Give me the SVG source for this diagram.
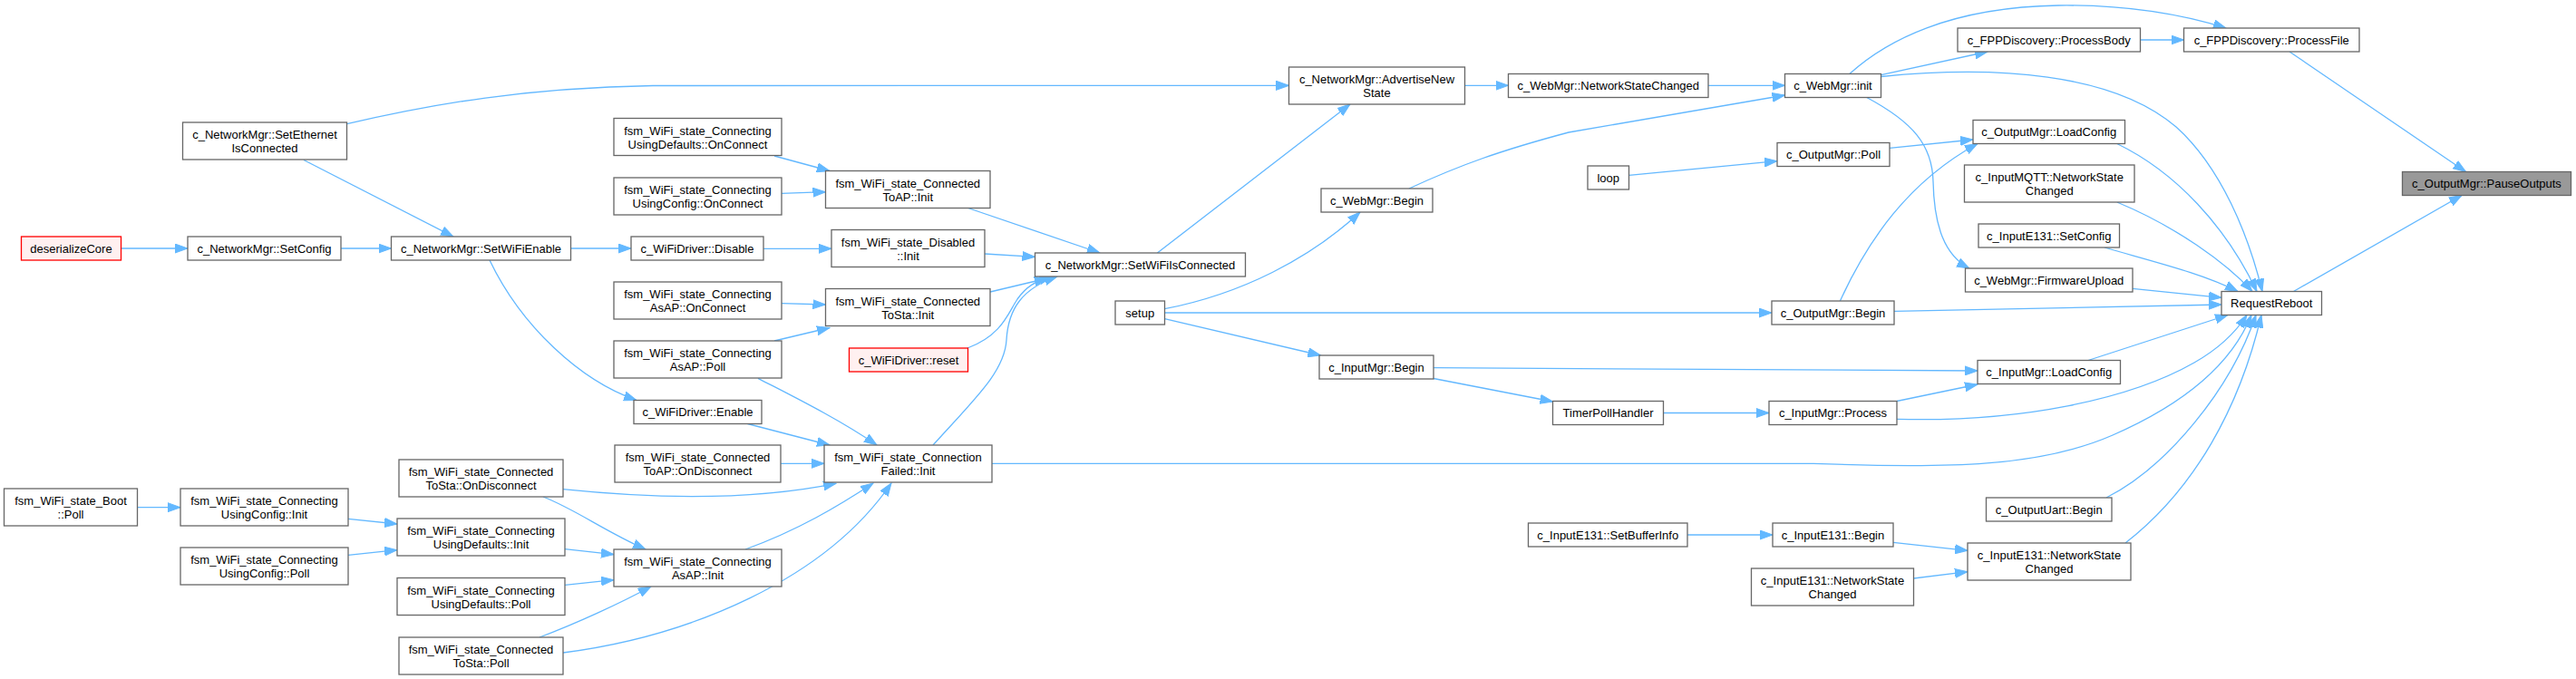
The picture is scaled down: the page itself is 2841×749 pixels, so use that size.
<svg xmlns="http://www.w3.org/2000/svg" width="2841" height="749" viewBox="0 0 2841 749">
<style>
.n rect{fill:#fff;stroke:#666;stroke-width:1.3}
.r rect{fill:#fff0f0;stroke:#f00;stroke-width:1.3}
.g rect{fill:#999;stroke:#666;stroke-width:1.3}
text{font-family:"Liberation Sans",Arial,sans-serif;font-size:13px;text-anchor:middle;fill:#000}
#edges path{fill:none;stroke:#63b8ff;stroke-width:1.3;marker-end:url(#ah)}
</style>
<defs>
<marker id="ah" markerUnits="userSpaceOnUse" markerWidth="15" markerHeight="11" viewBox="0 0 15 11" refX="14" refY="5.5" orient="auto"><path d="M0,0.5 L14,5.5 L0,10.5 z" fill="#63b8ff" stroke="#63b8ff" stroke-width="1"/></marker>
</defs>
<rect width="2841" height="749" fill="#fff"/>
<g id="edges">
<path d="M133.5,274 L207,274"/>
<path d="M376,274 L431.5,274"/>
<path d="M335,176.5 L500,261"/>
<path d="M382.6,136.7 C480,114 580,97 720,94.5 L1421.5,94.3"/>
<path d="M629.5,274 L696,274"/>
<path d="M540,287 C575,360 640,420 702,441.5"/>
<path d="M854,172 L915,188.5"/>
<path d="M862,213.3 L910.5,211.7"/>
<path d="M842,274.3 L917,274.3"/>
<path d="M862,334.7 L910.5,336"/>
<path d="M854,376 L915,361.5"/>
<path d="M836,417.3 C870,435 925,462 967,491"/>
<path d="M824.5,467.5 L915,491"/>
<path d="M861,511.3 L909,511.3"/>
<path d="M621,539.7 C720,550 830,552 922,533.3"/>
<path d="M822,606 C880,585 925,558 963,533"/>
<path d="M621,720 C760,702 910,640 983,533"/>
<path d="M599,548 C635,562 665,585 712,606"/>
<path d="M623,605.7 L677,611.7"/>
<path d="M623,645.3 L677,639.7"/>
<path d="M595,703 C635,688 685,665 718,647"/>
<path d="M151.5,559.7 L199,559.7"/>
<path d="M384,572.3 L438,578"/>
<path d="M384,612.3 L438,606.7"/>
<path d="M1067.7,229.5 L1213,279"/>
<path d="M1086,280 L1141.5,283.3"/>
<path d="M1092,322 L1155,307"/>
<path d="M1067,384 C1105,370 1112,345 1122,330 C1132,316 1142,310 1160,305"/>
<path d="M1029,491 C1075,440 1108,410 1110,375 C1112,340 1128,318 1166,305"/>
<path d="M1276.4,279 L1489,115"/>
<path d="M1284.5,340.7 C1370,324 1445,285 1500,234"/>
<path d="M1284.5,345 L1954,345"/>
<path d="M1284.5,351.7 L1456.5,392"/>
<path d="M1615.5,94.3 L1663.5,94.3"/>
<path d="M1884,94.3 L1968.5,94.3"/>
<path d="M1554,208 C1610,182 1655,166 1730,146 L1968.5,105"/>
<path d="M1796.5,193.3 L1960,177.7"/>
<path d="M2084,163.3 L2176,154"/>
<path d="M2029.4,332 C2060,265 2105,200 2181,158.5"/>
<path d="M2039.8,81.5 C2080,45 2150,8 2270,6 C2350,5 2410,17 2455,31"/>
<path d="M2074.5,82.7 L2192,57"/>
<path d="M2074.5,84.5 C2200,72 2330,80 2400,140 C2450,185 2480,260 2495,321.5"/>
<path d="M2058.8,107.5 C2110,135 2131,160 2132,200 C2133,250 2145,282 2172,296"/>
<path d="M2360.5,44 L2408.5,44"/>
<path d="M2525,57 L2719.5,189.5"/>
<path d="M2529.5,321.5 L2715,215.5"/>
<path d="M2334.8,158.5 C2400,190 2455,250 2489,321.5"/>
<path d="M2334.8,223 C2400,250 2455,290 2484,321.5"/>
<path d="M2321,273 C2380,290 2430,302 2468,321.5"/>
<path d="M2352,318.3 L2450,328.3"/>
<path d="M2089,343.3 L2450,336"/>
<path d="M2303,397.5 L2457,347.5"/>
<path d="M2092,462.3 C2230,466 2350,440 2420,400 C2450,383 2466,366 2478,347.5"/>
<path d="M1094,511.3 L2000,511.3 C2150,517 2250,515 2330,480 C2410,445 2462,400 2483,347.5"/>
<path d="M2323,549 C2390,515 2460,430 2488,347.5"/>
<path d="M2344,599 C2420,540 2470,450 2494,347.5"/>
<path d="M1581,405.7 L2181,409"/>
<path d="M1581,417.5 L1712.5,443"/>
<path d="M1834.5,455.5 L1951,455.5"/>
<path d="M2092,442.5 L2181,424"/>
<path d="M1861,590 L1955,590"/>
<path d="M2088,598.3 L2170,607.3"/>
<path d="M2110.5,638 L2170,630.7"/>
</g>
<g id="n1" class="r"><rect x="23.5" y="261" width="110" height="26"/><text x="78.5" y="278.7">deserializeCore</text></g>
<g id="n2" class="n"><rect x="207" y="261" width="169" height="26"/><text x="291.5" y="278.7">c_NetworkMgr::SetConfig</text></g>
<g id="n3" class="n"><rect x="431.5" y="261" width="198" height="26"/><text x="530.5" y="278.7">c_NetworkMgr::SetWiFiEnable</text></g>
<g id="n4" class="n"><rect x="201.5" y="135" width="181" height="41"/><text x="292" y="153.3">c_NetworkMgr::SetEthernet</text><text x="292" y="168.3">IsConnected</text></g>
<g id="n5" class="n"><rect x="4.5" y="539" width="147" height="41"/><text x="78" y="557.3">fsm_WiFi_state_Boot</text><text x="78" y="572.3">::Poll</text></g>
<g id="n6" class="n"><rect x="199" y="539" width="185" height="41"/><text x="291.5" y="557.3">fsm_WiFi_state_Connecting</text><text x="291.5" y="572.3">UsingConfig::Init</text></g>
<g id="n7" class="n"><rect x="199" y="604" width="185" height="41"/><text x="291.5" y="622.3">fsm_WiFi_state_Connecting</text><text x="291.5" y="637.3">UsingConfig::Poll</text></g>
<g id="n8" class="n"><rect x="440" y="507" width="181" height="41"/><text x="530.5" y="525.3">fsm_WiFi_state_Connected</text><text x="530.5" y="540.3">ToSta::OnDisconnect</text></g>
<g id="n9" class="n"><rect x="438" y="572" width="185" height="41"/><text x="530.5" y="590.3">fsm_WiFi_state_Connecting</text><text x="530.5" y="605.3">UsingDefaults::Init</text></g>
<g id="n10" class="n"><rect x="438" y="637.5" width="185" height="41"/><text x="530.5" y="655.8">fsm_WiFi_state_Connecting</text><text x="530.5" y="670.8">UsingDefaults::Poll</text></g>
<g id="n11" class="n"><rect x="440" y="703" width="181" height="41"/><text x="530.5" y="721.3">fsm_WiFi_state_Connected</text><text x="530.5" y="736.3">ToSta::Poll</text></g>
<g id="n12" class="n"><rect x="677" y="130.5" width="185" height="41"/><text x="769.5" y="148.8">fsm_WiFi_state_Connecting</text><text x="769.5" y="163.8">UsingDefaults::OnConnect</text></g>
<g id="n13" class="n"><rect x="677" y="196" width="185" height="41"/><text x="769.5" y="214.3">fsm_WiFi_state_Connecting</text><text x="769.5" y="229.3">UsingConfig::OnConnect</text></g>
<g id="n14" class="n"><rect x="696" y="261" width="146" height="26"/><text x="769" y="278.7">c_WiFiDriver::Disable</text></g>
<g id="n15" class="n"><rect x="677" y="311" width="185" height="41"/><text x="769.5" y="329.3">fsm_WiFi_state_Connecting</text><text x="769.5" y="344.3">AsAP::OnConnect</text></g>
<g id="n16" class="n"><rect x="677" y="376" width="185" height="41"/><text x="769.5" y="394.3">fsm_WiFi_state_Connecting</text><text x="769.5" y="409.3">AsAP::Poll</text></g>
<g id="n17" class="n"><rect x="699" y="441.5" width="141" height="26"/><text x="769.5" y="459.2">c_WiFiDriver::Enable</text></g>
<g id="n18" class="n"><rect x="678" y="491" width="183" height="41"/><text x="769.5" y="509.3">fsm_WiFi_state_Connected</text><text x="769.5" y="524.3">ToAP::OnDisconnect</text></g>
<g id="n19" class="n"><rect x="677" y="606" width="185" height="41"/><text x="769.5" y="624.3">fsm_WiFi_state_Connecting</text><text x="769.5" y="639.3">AsAP::Init</text></g>
<g id="n20" class="n"><rect x="910.5" y="188.5" width="181.5" height="41"/><text x="1001.25" y="206.8">fsm_WiFi_state_Connected</text><text x="1001.25" y="221.8">ToAP::Init</text></g>
<g id="n21" class="n"><rect x="917" y="253.5" width="169" height="41"/><text x="1001.5" y="271.8">fsm_WiFi_state_Disabled</text><text x="1001.5" y="286.8">::Init</text></g>
<g id="n22" class="n"><rect x="910.5" y="318.5" width="181.5" height="41"/><text x="1001.25" y="336.8">fsm_WiFi_state_Connected</text><text x="1001.25" y="351.8">ToSta::Init</text></g>
<g id="n23" class="r"><rect x="936.5" y="384" width="131" height="26"/><text x="1002" y="401.7">c_WiFiDriver::reset</text></g>
<g id="n24" class="n"><rect x="909" y="491" width="185" height="41"/><text x="1001.5" y="509.3">fsm_WiFi_state_Connection</text><text x="1001.5" y="524.3">Failed::Init</text></g>
<g id="n25" class="n"><rect x="1141.5" y="279" width="232" height="26"/><text x="1257.5" y="296.7">c_NetworkMgr::SetWiFiIsConnected</text></g>
<g id="n26" class="n"><rect x="1230" y="332" width="54.5" height="26"/><text x="1257.25" y="349.7">setup</text></g>
<g id="n27" class="n"><rect x="1421.5" y="74" width="194" height="41"/><text x="1518.5" y="92.3">c_NetworkMgr::AdvertiseNew</text><text x="1518.5" y="107.3">State</text></g>
<g id="n28" class="n"><rect x="1457" y="208" width="123" height="26"/><text x="1518.5" y="225.7">c_WebMgr::Begin</text></g>
<g id="n29" class="n"><rect x="1455" y="392" width="126" height="26"/><text x="1518" y="409.7">c_InputMgr::Begin</text></g>
<g id="n30" class="n"><rect x="1663.5" y="81.5" width="220.5" height="26"/><text x="1773.75" y="99.2">c_WebMgr::NetworkStateChanged</text></g>
<g id="n31" class="n"><rect x="1751" y="183" width="45.5" height="26"/><text x="1773.75" y="200.7">loop</text></g>
<g id="n32" class="n"><rect x="1712.5" y="442.5" width="122" height="26"/><text x="1773.5" y="460.2">TimerPollHandler</text></g>
<g id="n33" class="n"><rect x="1685.5" y="577" width="175.5" height="26"/><text x="1773.25" y="594.7">c_InputE131::SetBufferInfo</text></g>
<g id="n34" class="n"><rect x="1968.5" y="81.5" width="106" height="26"/><text x="2021.5" y="99.2">c_WebMgr::init</text></g>
<g id="n35" class="n"><rect x="1960" y="157.5" width="124" height="26"/><text x="2022" y="175.2">c_OutputMgr::Poll</text></g>
<g id="n36" class="n"><rect x="1954" y="332" width="135" height="26"/><text x="2021.5" y="349.7">c_OutputMgr::Begin</text></g>
<g id="n37" class="n"><rect x="1951" y="442.5" width="141" height="26"/><text x="2021.5" y="460.2">c_InputMgr::Process</text></g>
<g id="n38" class="n"><rect x="1955" y="577" width="133" height="26"/><text x="2021.5" y="594.7">c_InputE131::Begin</text></g>
<g id="n39" class="n"><rect x="1931.5" y="627" width="179" height="41"/><text x="2021" y="645.3">c_InputE131::NetworkState</text><text x="2021" y="660.3">Changed</text></g>
<g id="n40" class="n"><rect x="2159" y="31" width="201.5" height="26"/><text x="2259.75" y="48.7">c_FPPDiscovery::ProcessBody</text></g>
<g id="n41" class="n"><rect x="2176" y="132.5" width="167.5" height="26"/><text x="2259.75" y="150.2">c_OutputMgr::LoadConfig</text></g>
<g id="n42" class="n"><rect x="2166.5" y="182" width="187.5" height="41"/><text x="2260.25" y="200.3">c_InputMQTT::NetworkState</text><text x="2260.25" y="215.3">Changed</text></g>
<g id="n43" class="n"><rect x="2182" y="247" width="155.5" height="26"/><text x="2259.75" y="264.7">c_InputE131::SetConfig</text></g>
<g id="n44" class="n"><rect x="2167.5" y="296" width="184.5" height="26"/><text x="2259.75" y="313.7">c_WebMgr::FirmwareUpload</text></g>
<g id="n45" class="n"><rect x="2181" y="397.5" width="157.5" height="26"/><text x="2259.75" y="415.2">c_InputMgr::LoadConfig</text></g>
<g id="n46" class="n"><rect x="2190.5" y="549" width="138.5" height="26"/><text x="2259.75" y="566.7">c_OutputUart::Begin</text></g>
<g id="n47" class="n"><rect x="2170" y="599" width="180" height="41"/><text x="2260" y="617.3">c_InputE131::NetworkState</text><text x="2260" y="632.3">Changed</text></g>
<g id="n48" class="n"><rect x="2408.5" y="31" width="193.5" height="26"/><text x="2505.25" y="48.7">c_FPPDiscovery::ProcessFile</text></g>
<g id="n49" class="n"><rect x="2450" y="321.5" width="110.5" height="26"/><text x="2505.25" y="339.2">RequestReboot</text></g>
<g id="n50" class="g"><rect x="2649.5" y="189.5" width="186" height="26"/><text x="2742.5" y="207.2">c_OutputMgr::PauseOutputs</text></g>
</svg>
